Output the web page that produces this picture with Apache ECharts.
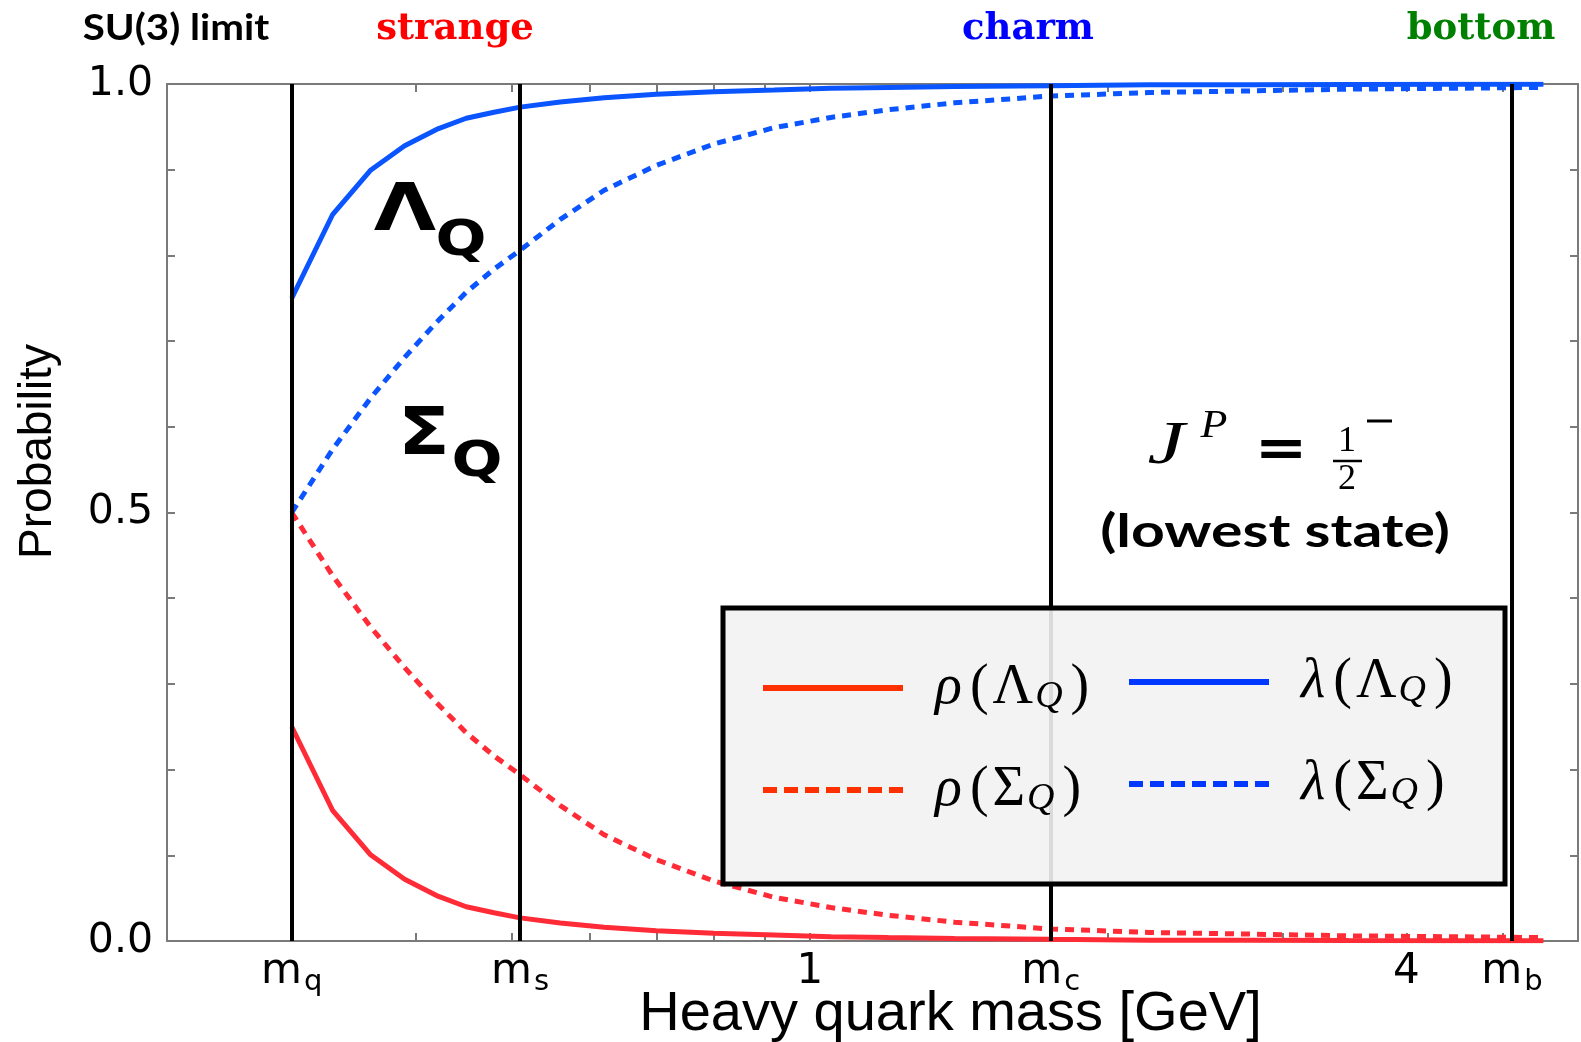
<!DOCTYPE html>
<html>
<head>
<meta charset="utf-8">
<script src="https://cdn.jsdelivr.net/npm/echarts@6/dist/echarts.min.js"></script>
<style>
  html, body { margin: 0; padding: 0; background: #fff; }
  #chart { width: 1581px; height: 1042px; }
</style>
</head>
<body>
<div id="chart"></div>
<script>
// Heavy quark mass [GeV] at which the probabilities are sampled
const mass = [0.30, 0.33, 0.36, 0.39, 0.42, 0.45, 0.48, 0.51, 0.56, 0.62, 0.70, 0.80,
              0.92, 1.05, 1.20, 1.40, 1.75, 2.20, 2.80, 3.50, 4.40, 5.50];

// Probabilities of the rho- and lambda-mode components
const rhoLambda    = [0.250, 0.152, 0.101, 0.072, 0.053, 0.040, 0.033, 0.027, 0.021, 0.016, 0.012,
                      0.009, 0.007, 0.005, 0.004, 0.003, 0.002, 0.001, 0.001, 0.0005, 0.0003, 0.0002];
const lambdaLambda = [0.750, 0.848, 0.899, 0.928, 0.947, 0.960, 0.967, 0.973, 0.979, 0.984, 0.988,
                      0.991, 0.993, 0.995, 0.996, 0.997, 0.998, 0.999, 0.999, 0.9995, 0.9997, 0.9998];
const rhoSigma     = [0.500, 0.426, 0.367, 0.319, 0.278, 0.243, 0.216, 0.194, 0.158, 0.124, 0.095,
                      0.070, 0.051, 0.039, 0.030, 0.022, 0.014, 0.010, 0.008, 0.006, 0.005, 0.004];
const lambdaSigma  = [0.500, 0.574, 0.633, 0.681, 0.722, 0.757, 0.784, 0.806, 0.842, 0.876, 0.905,
                      0.930, 0.949, 0.961, 0.970, 0.978, 0.986, 0.990, 0.992, 0.994, 0.995, 0.996];

// Constituent quark masses [GeV]: m_q, m_s, m_c, m_b
const quarkMasses = [0.30, 0.51, 1.75, 5.112];

// Axis ticks and labels
const xLabelValues = [0.30, 0.51, 1, 1.75, 4, 5.112];
const xLabelTexts  = ['m{sub|q}', 'm{sub|s}', '1', 'm{sub|c}', '4', 'm{sub|b}'];
const xTickValues  = [0.3, 0.4, 0.5, 0.6, 0.7, 0.8, 0.9, 1, 2, 3, 4, 5];
const yLabelValues = [0, 0.5, 1];

// Series names and their legend text
const seriesNames = ['ρ(Λ_Q)', 'λ(Λ_Q)', 'ρ(Σ_Q)', 'λ(Σ_Q)'];
const legendTexts = [
  '{i|ρ}{p|(}{g|Λ}{s|Q}{p|)}',
  '{i|λ}{p|(}{g|Λ}{s|Q}{p|)}',
  '{i|ρ}{p|(}{g|Σ}{s|Q}{p|)}',
  '{i|λ}{p|(}{g|Σ}{s|Q}{p|)}'
];

// Flavour names over the plot
const flavourNames = ['strange', 'charm', 'bottom'];

const RED = '#ff2b36';
const BLUE = '#0a55ff';
const AXIS_GREY = '#7a7a7a';
const DASH = [9, 7];

// Legend swatches: a solid bar and a row of seven dashes
const SOLID_ICON = 'path://M0,0h140v6h-140z';
const DASHED_ICON = 'path://M0,0h14v6h-14z M21,0h14v6h-14z M42,0h14v6h-14z M63,0h14v6h-14z ' +
                    'M84,0h14v6h-14z M105,0h14v6h-14z M126,0h14v6h-14z';

const pair = (xs, ys) => xs.map((x, i) => [x, ys[i]]);

const xLabelFormatter = v => {
  const i = xLabelValues.findIndex(t => Math.abs(Math.log(t / v)) < 1e-6);
  return i < 0 ? '' : xLabelTexts[i];
};
const yLabelFormatter = v => {
  const hit = yLabelValues.some(t => Math.abs(t - v) < 1e-6);
  return hit ? v.toFixed(1) : '';
};
const legendFormatter = name => legendTexts[seriesNames.indexOf(name)];

const legendTextStyle = {
  color: '#000',
  fontFamily: 'Liberation Serif',
  fontSize: 54,
  lineHeight: 56,
  padding: [0, 0, 0, 26],
  rich: {
    i: { fontFamily: 'Liberation Serif', fontStyle: 'italic', fontSize: 56, lineHeight: 56, padding: [0, 8, 0, 0] },
    p: { fontFamily: 'Liberation Serif', fontSize: 56, lineHeight: 56 },
    g: { fontFamily: 'Liberation Serif', fontSize: 56, lineHeight: 56, padding: [0, 2, 0, 4] },
    s: { fontFamily: 'Liberation Serif', fontStyle: 'italic', fontSize: 38, lineHeight: 20, verticalAlign: 'bottom', padding: [0, 8, 0, 0] }
  }
};

const legendBase = {
  orient: 'vertical',
  itemWidth: 142,
  itemHeight: 6,
  itemGap: 46,
  z: 10,
  selectedMode: false,
  formatter: legendFormatter,
  textStyle: legendTextStyle
};

const curve = (name, ys, color, dashed) => ({
  name,
  type: 'line',
  data: pair(mass, ys),
  showSymbol: false,
  symbol: 'none',
  z: 2,
  lineStyle: { color, width: 5, type: dashed ? DASH : 'solid' },
  itemStyle: { color }
});

const logAxisBase = {
  type: 'log',
  logBase: 10,
  min: 0.2245,
  max: 5.96,
  splitLine: { show: false },
  minorTick: { show: false },
  axisLine: { show: true, onZero: false, lineStyle: { color: AXIS_GREY, width: 2 } },
  axisTick: { show: true, inside: true, length: 8, customValues: xTickValues,
              lineStyle: { color: AXIS_GREY, width: 2 } }
};

const valueAxisBase = {
  type: 'value',
  min: 0,
  max: 1,
  interval: 0.1,
  splitLine: { show: false },
  axisLine: { show: true, lineStyle: { color: AXIS_GREY, width: 2 } },
  axisTick: { show: true, inside: true, length: 8, lineStyle: { color: AXIS_GREY, width: 2 } }
};

const textEl = (x, y, text, style, scaleX) => ({
  type: 'text', z: 8, x, y, scaleX: scaleX || 1,
  style: Object.assign({ text, fill: '#000', align: 'center', verticalAlign: 'middle' }, style)
});

const chart = echarts.init(document.getElementById('chart'));

chart.setOption({
  animation: false,
  backgroundColor: '#fff',
  grid: { left: 167, right: 3, top: 84, bottom: 101, containLabel: false, outerBoundsMode: 'none' },
  xAxis: [
    Object.assign({}, logAxisBase, {
      position: 'bottom',
      axisLabel: {
        customValues: xLabelValues,
        formatter: xLabelFormatter,
        color: '#000',
        fontFamily: 'DejaVu Sans',
        fontSize: 42,
        lineHeight: 50,
        margin: 6,
        rich: {
          sub: { fontFamily: 'DejaVu Sans', fontSize: 29, lineHeight: 20, verticalAlign: 'bottom', padding: [0, 0, 0, 2] }
        }
      },
      name: 'Heavy quark mass [GeV]',
      nameLocation: 'middle',
      nameGap: 46,
      nameMoveOverlap: false,
      nameTextStyle: { color: '#000', fontFamily: 'Liberation Sans', fontSize: 56, padding: [0, 0, 0, 156] }
    }),
    Object.assign({}, logAxisBase, {
      position: 'top',
      axisLabel: { show: false }
    })
  ],
  yAxis: [
    Object.assign({}, valueAxisBase, {
      position: 'left',
      axisLabel: {
        formatter: yLabelFormatter,
        color: '#000',
        fontFamily: 'DejaVu Sans',
        fontSize: 41,
        margin: 14
      },
      name: 'Probability',
      nameLocation: 'middle',
      nameRotate: 90,
      nameGap: 106,
      nameMoveOverlap: false,
      nameTextStyle: { color: '#000', fontFamily: 'Liberation Sans', fontSize: 46, padding: [0, 0, 0, 122] }
    }),
    Object.assign({}, valueAxisBase, {
      position: 'right',
      axisLabel: { show: false }
    })
  ],
  legend: [
    Object.assign({}, legendBase, {
      left: 758,
      top: 655,
      data: [
        { name: seriesNames[0], icon: SOLID_ICON, itemStyle: { color: '#ff3000' } },
        { name: seriesNames[2], icon: DASHED_ICON, itemStyle: { color: '#ff3000' } }
      ]
    }),
    Object.assign({}, legendBase, {
      left: 1124,
      top: 649,
      data: [
        { name: seriesNames[1], icon: SOLID_ICON, itemStyle: { color: '#0038ff' } },
        { name: seriesNames[3], icon: DASHED_ICON, itemStyle: { color: '#0038ff' } }
      ]
    })
  ],
  series: [
    curve(seriesNames[0], rhoLambda, RED, false),
    curve(seriesNames[1], lambdaLambda, BLUE, false),
    curve(seriesNames[2], rhoSigma, RED, true),
    curve(seriesNames[3], lambdaSigma, BLUE, true),
    {
      name: 'quark masses',
      type: 'line',
      data: [],
      z: 3,
      markLine: {
        silent: true,
        symbol: 'none',
        label: { show: false },
        lineStyle: { color: '#000', width: 4, type: 'solid' },
        data: quarkMasses.map(m => ({ xAxis: m }))
      }
    }
  ],
  graphic: [
    // legend panel
    {
      type: 'rect', z: 6,
      shape: { x: 723, y: 608, width: 782, height: 276 },
      style: { fill: 'rgba(242,242,242,0.9)', stroke: '#000', lineWidth: 5 }
    },
    // headings over the plot
    textEl(176, 28, 'SU(3) limit', { fontFamily: 'Lato', fontWeight: 'bold', fontSize: 36 }, 1.12),
    textEl(455, 29, flavourNames[0], { fontFamily: 'DejaVu Serif', fontWeight: 'bold', fontSize: 37, fill: '#ff0000' }),
    textEl(1028, 29, flavourNames[1], { fontFamily: 'DejaVu Serif', fontWeight: 'bold', fontSize: 37, fill: '#0000ff' }),
    textEl(1481, 29, flavourNames[2], { fontFamily: 'DejaVu Serif', fontWeight: 'bold', fontSize: 37, fill: '#008000' }),
    // curve annotations
    textEl(405, 213, 'Λ', { fontFamily: 'DejaVu Sans', fontWeight: 'bold', fontSize: 66 }, 1.22),
    textEl(461, 242, 'Q', { fontFamily: 'DejaVu Sans', fontWeight: 'bold', fontSize: 50 }, 1.2),
    textEl(424, 437, 'Σ', { fontFamily: 'DejaVu Sans', fontWeight: 'bold', fontSize: 66 }, 1.15),
    textEl(477, 463, 'Q', { fontFamily: 'DejaVu Sans', fontWeight: 'bold', fontSize: 50 }, 1.2),
    // J^P = 1/2^-
    textEl(1166, 447, 'J', { fontFamily: 'Liberation Serif', fontStyle: 'italic', fontSize: 62 }, 1.35),
    textEl(1214, 426, 'P', { fontFamily: 'Liberation Serif', fontStyle: 'italic', fontSize: 40 }, 1.1),
    textEl(1281, 451, '=', { fontFamily: 'Lato', fontWeight: 'bold', fontSize: 66 }, 1.35),
    textEl(1347, 442, '1', { fontFamily: 'Liberation Serif', fontSize: 36 }),
    { type: 'line', z: 8, shape: { x1: 1333, y1: 461, x2: 1362, y2: 461 },
      style: { stroke: '#000', lineWidth: 2.5 } },
    textEl(1347, 480, '2', { fontFamily: 'Liberation Serif', fontSize: 36 }),
    { type: 'line', z: 8, shape: { x1: 1367, y1: 421, x2: 1392, y2: 421 },
      style: { stroke: '#000', lineWidth: 3 } },
    textEl(1275, 532, '(lowest state)', { fontFamily: 'Lato', fontWeight: 'bold', fontSize: 46 }, 1.28)
  ]
});
</script>
</body>
</html>
